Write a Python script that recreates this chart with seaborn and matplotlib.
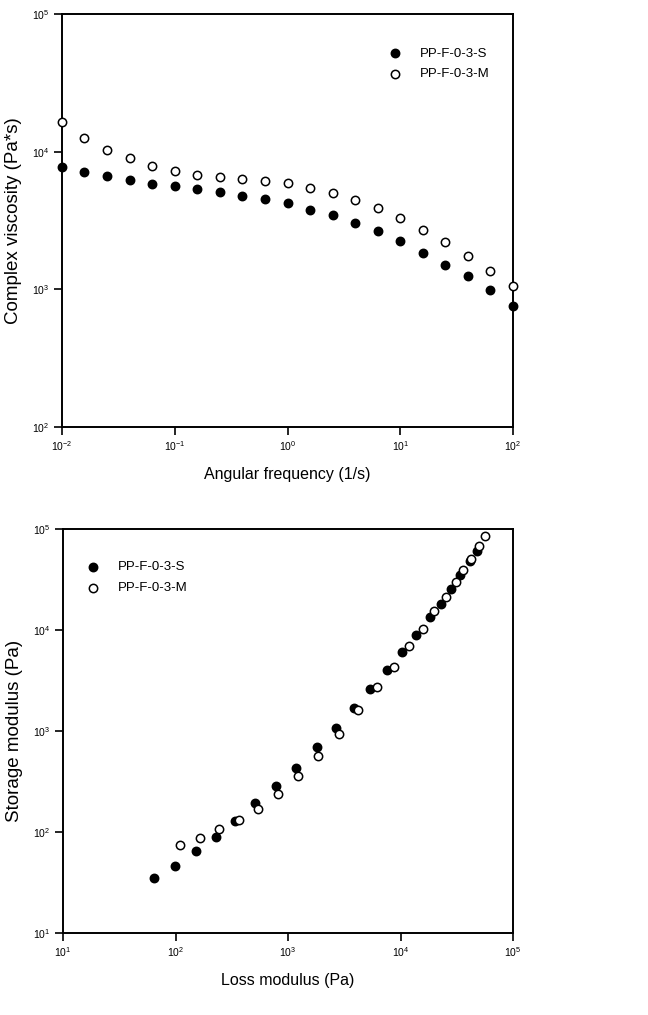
import numpy as np
import pandas as pd
import matplotlib
matplotlib.use("Agg")
import matplotlib.pyplot as plt
import seaborn as sns
from matplotlib.ticker import LogLocator, NullLocator, LogFormatterSciNotation

sns.set_theme(style="white")
plt.rcParams['font.family'] = ['Liberation Sans', 'DejaVu Sans']
plt.rcParams['mathtext.fontset'] = 'custom'
plt.rcParams['mathtext.rm'] = 'Liberation Sans'
plt.rcParams['text.color'] = 'black'
plt.rcParams['axes.labelcolor'] = 'black'
plt.rcParams['xtick.color'] = 'black'
plt.rcParams['ytick.color'] = 'black'

# ---- Top panel: complex viscosity vs angular frequency ----
freq = [0.01, 0.0158, 0.0251, 0.0398, 0.0631, 0.1, 0.158, 0.251, 0.398, 0.631,
        1.0, 1.58, 2.51, 3.98, 6.31, 10.0, 15.8, 25.1, 39.8, 63.1, 100.0]
visc_S = [7690, 7080, 6690, 6250, 5840, 5590, 5380, 5090, 4780, 4550,
          4210, 3780, 3480, 3030, 2660, 2250, 1850, 1500, 1240, 990, 760]
visc_M = [16300, 12580, 10340, 9040, 7910, 7270, 6730, 6510, 6330, 6080,
          5880, 5410, 4970, 4450, 3890, 3290, 2720, 2190, 1760, 1370, 1060]

# ---- Bottom panel: storage modulus vs loss modulus ----
loss_S = [64.9, 99.8, 151, 229, 338, 513, 777, 1185, 1800, 2650, 3860, 5320,
          7590, 10380, 13830, 18170, 22750, 28300, 34000, 41200, 47900]
stor_S = [34.8, 46.4, 64.4, 89.1, 128, 194, 288, 427, 688, 1060, 1675, 2610,
          4020, 6010, 8920, 13330, 18220, 25300, 35300, 47900, 61000]
loss_M = [110, 164, 242, 364, 544, 820, 1227, 1850, 2820, 4160, 6140, 8690,
          11820, 15850, 19850, 25200, 31100, 36200, 42100, 49600, 56000]
stor_M = [74.3, 86.5, 108, 132, 169, 238, 361, 561, 942, 1625, 2700, 4310,
          6890, 10300, 15300, 21400, 29600, 39600, 50800, 68400, 84500]

labels = ["PP-F-0-3-S", "PP-F-0-3-M"]

top_df = pd.concat([
    pd.DataFrame({"x": freq, "y": visc_S, "sample": labels[0]}),
    pd.DataFrame({"x": freq, "y": visc_M, "sample": labels[1]}),
])
bot_df = pd.concat([
    pd.DataFrame({"x": loss_S, "y": stor_S, "sample": labels[0]}),
    pd.DataFrame({"x": loss_M, "y": stor_M, "sample": labels[1]}),
])

fig = plt.figure(figsize=(6.48, 10.15), dpi=100)
W, H = 648, 1015
ax1 = fig.add_axes([62 / W, 1 - 427 / H, (513 - 62) / W, (427 - 14) / H])
ax2 = fig.add_axes([63 / W, 1 - 933 / H, (513 - 63) / W, (933 - 529) / H])

fills = {labels[0]: "black", labels[1]: "white"}


def draw(ax, df, xlim, ylim, xlabel, ylabel, legend_loc, anchor):
    for lab in labels:
        sub = df[df["sample"] == lab]
        sns.scatterplot(data=sub, x="x", y="y", ax=ax, marker="o", s=36,
                        color=fills[lab], edgecolor="black",
                        linewidth=1.1, label=lab, clip_on=False, zorder=3)
    ax.set_xscale("log")
    ax.set_yscale("log")
    ax.set_xlim(*xlim)
    ax.set_ylim(*ylim)
    for a in (ax.xaxis, ax.yaxis):
        a.set_major_locator(LogLocator(base=10, numticks=20))
        a.set_minor_locator(NullLocator())
        a.set_major_formatter(LogFormatterSciNotation())
    ax.tick_params(axis="both", which="major", direction="out", length=6,
                   width=1.2, labelsize=7.5, pad=3, bottom=True, left=True,
                   top=False, right=False, colors="black")
    for sp in ax.spines.values():
        sp.set_color("black")
        sp.set_linewidth(1.4)
    ax.set_xlabel(xlabel, fontsize=11.5, labelpad=10, color="black")
    ax.set_ylabel(ylabel, fontsize=13.5, labelpad=7, color="black")
    leg = ax.legend(loc=legend_loc, bbox_to_anchor=anchor, frameon=False,
                    fontsize=9.5, handletextpad=0.9, labelspacing=0.65,
                    markerscale=1.0)
    for t in leg.get_texts():
        t.set_color("black")
    return leg


draw(ax1, top_df, (1e-2, 1e2), (1e2, 1e5), "Angular frequency (1/s)",
     "Complex viscosity (Pa*s)", "upper right", (0.975, 0.948))
draw(ax2, bot_df, (1e1, 1e5), (1e1, 1e5), "Loss modulus (Pa)",
     "Storage modulus (Pa)", "upper left", (0.01, 0.95))

fig.savefig("out.png", dpi=100)
